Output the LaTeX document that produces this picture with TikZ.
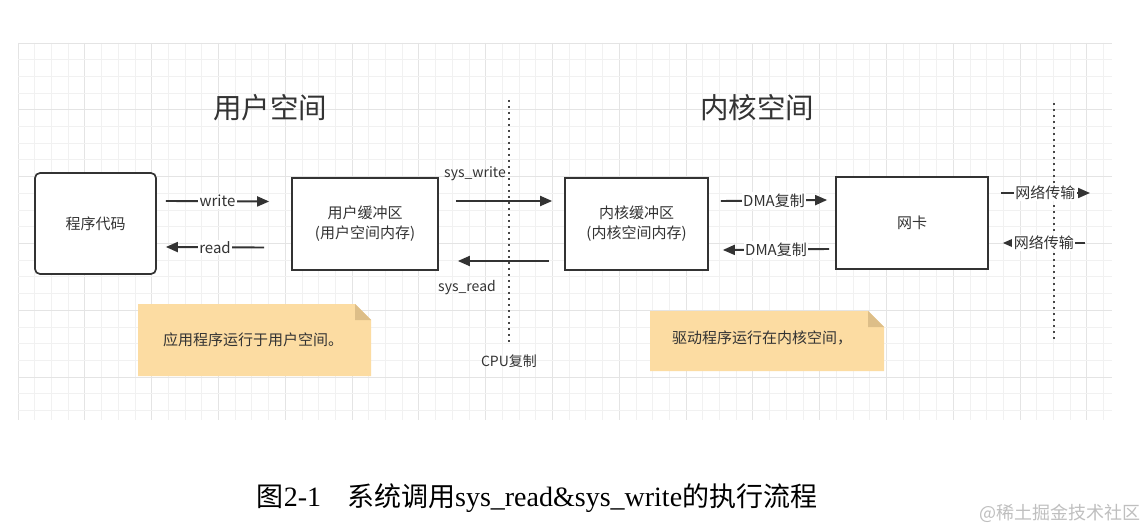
\documentclass[tikz,border=0pt]{standalone}
\usepackage{fontspec}
\setmainfont{Noto Sans CJK SC}
\newfontfamily\capserif{Liberation Serif}
\newfontfamily\cjk{Noto Sans CJK SC}
\usetikzlibrary{arrows.meta,calc}
\definecolor{ink}{HTML}{333333}
\definecolor{notefill}{HTML}{FCDCA2}
\definecolor{notefold}{HTML}{DDBE88}
\definecolor{gridminor}{HTML}{F1F1F1}
\definecolor{gridmajor}{HTML}{E4E4E4}
\begin{document}
\begin{tikzpicture}[x=1pt,y=-1pt,
  box/.style={draw=ink,line width=1.7pt,fill=white,text=ink,font=\fontsize{15}{20}\selectfont,align=center,inner sep=0pt},
  arr/.style={draw=ink,line width=1.9pt,-{Triangle[length=12pt,width=10pt]}},
  lbl/.style={fill=white,text=ink,font=\fontsize{15}{17}\selectfont,inner sep=1.5pt},
  plain/.style={text=ink,font=\fontsize{14}{16}\selectfont,inner sep=0pt},
  notetext/.style={text=ink,font=\fontsize{15}{17}\selectfont,inner sep=0pt},
  title/.style={text=ink,font=\fontsize{28.5}{32}\selectfont,inner sep=0pt},
  sep/.style={draw=ink!90,line width=2pt,dash pattern=on 2pt off 4pt},
  note/.style={fill=notefill},
  fold/.style={fill=notefold}]
\useasboundingbox (0,0) rectangle (1145,529);
\fill[white] (0,0) rectangle (1145,529);
% grid
\foreach \i in {0,...,65}{
  \pgfmathsetmacro\xx{18+\i*16.7}
  \pgfmathtruncatemacro\m{mod(\i,4)}
  \ifnum\m=0 \draw[gridmajor,line width=0.8pt] (\xx,43) -- (\xx,420);
  \else \draw[gridminor,line width=0.8pt] (\xx,43) -- (\xx,420); \fi
}
\foreach \j in {0,...,22}{
  \pgfmathsetmacro\yy{43+\j*16.7}
  \pgfmathtruncatemacro\m{mod(\j,4)}
  \ifnum\m=0 \draw[gridmajor,line width=0.8pt] (18,\yy) -- (1112,\yy);
  \else \draw[gridminor,line width=0.8pt] (18,\yy) -- (1112,\yy); \fi
}
% titles
\node[title] (tu) at (270,108) {用户空间};
\node[title] (tk) at (757,108) {内核空间};
% separators
\coordinate (s1a) at (509,100); \coordinate (s1b) at (509,345);
\coordinate (s2a) at (1054,103); \coordinate (s2b) at (1054,342);
\draw[sep] (s1a) -- (s1b);
\draw[sep] (s2a) -- (s2b);
% boxes
\node[box,rounded corners=5pt,minimum width=121pt,minimum height=101pt] (pc) at (95.5,223.5) {程序代码};
\node[box,minimum width=146pt,minimum height=92pt] (ub) at (365,224) {用户缓冲区\\(用户空间内存)};
\node[box,minimum width=143pt,minimum height=92pt] (kb) at (636.5,224) {内核缓冲区\\(内核空间内存)};
\node[box,minimum width=152pt,minimum height=92pt] (nic) at (912,223) {网卡};
% write / read
\draw[arr] ([xshift=9pt,yshift=22.5pt]pc.east) -- ([xshift=-22pt,yshift=22.5pt]ub.west) node[lbl,midway] {write};
\draw[arr] ([xshift=-27pt,yshift=-23.5pt]ub.west) -- ([xshift=9pt,yshift=-23.5pt]pc.east) node[lbl,midway] {read};
% sys_write / sys_read
\draw[arr] ([xshift=17pt,yshift=23pt]ub.east) -- ([xshift=-12pt,yshift=23pt]kb.west);
\node[plain] (lsw) at (475,174) {sys\_write};
\draw[arr] ([xshift=-15pt,yshift=-37pt]kb.west) -- ([xshift=19pt,yshift=-37pt]ub.east);
\node[plain] (lsr) at (467,288) {sys\_read};
% DMA
\draw[arr] ([xshift=12pt,yshift=23pt]kb.east) -- ([xshift=-8pt,yshift=23pt]nic.west) node[lbl,midway] {DMA复制};
\draw[arr] ([xshift=-6pt,yshift=-26pt]nic.west) -- ([xshift=14pt,yshift=-26pt]kb.east) node[lbl,midway] {DMA复制};
% network
\coordinate (n1) at (1090,193);
\coordinate (n2) at (1085,243);
\draw[arr] ([xshift=12pt,yshift=30pt]nic.east) -- (n1) node[lbl,midway] {网络传输};
\draw[arr] (n2) -- ([xshift=14pt,yshift=-20pt]nic.east) node[lbl,midway] {网络传输};
% notes
\fill[note] (138,304) -- (355,304) -- (371,320) -- (371,376) -- (138,376) -- cycle;
\fill[fold] (355,304) -- (355,320) -- (371,320) -- cycle;
\node[notetext] (note1) at (253,340) {应用程序运行于用户空间。};
\fill[note] (650,311) -- (868,311) -- (884,327) -- (884,371) -- (650,371) -- cycle;
\fill[fold] (868,311) -- (868,327) -- (884,327) -- cycle;
\node[notetext] (note2) at (762,338) {驱动程序运行在内核空间，};
\node[plain] (cpu) at (509,361) {CPU复制};
% caption
\node[text=black,inner sep=0pt,font=\fontsize{27}{30}\selectfont] (cap) at (537,498)
  {{\cjk 图}{\capserif\fontsize{28}{30}\selectfont 2-1}\hspace{26pt}{\cjk 系统调用}{\capserif\fontsize{28}{30}\selectfont sys\_read\&sys\_write}{\cjk 的执行流程}};
\node[text=black!25,inner sep=0pt,font=\fontsize{18}{20}\selectfont] (wm) at (1060,513) {@稀土掘金技术社区};
\end{tikzpicture}
\end{document}
